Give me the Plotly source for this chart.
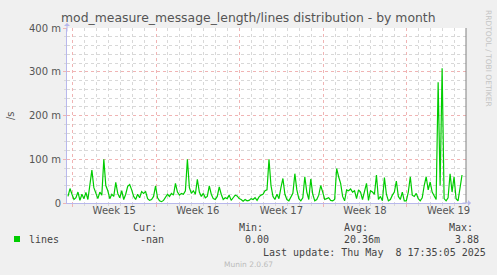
import plotly.graph_objects as go
import pandas as pd

# ---------------- data ----------------
title = "mod_measure_message_length/lines distribution - by month"
series_name = "lines"
# values in milli-units (m/s), one sample every 4 hours
lines_m = [
    15, 33, 20, 8, 12, 25, 6, 20, 10, 24,
    8, 45, 75, 35, 22, 10, 25, 18, 100, 40,
    28, 10, 20, 15, 47, 22, 12, 28, 8, 20,
    38, 42, 30, 15, 8, 20, 12, 26, 22, 26,
    10, 6, 8, 15, 39, 12, 5, 3, 6, 12,
    20, 15, 22, 18, 45, 25, 18, 22, 20, 28,
    100, 35, 22, 28, 20, 54, 25, 15, 22, 12,
    15, 39, 20, 10, 8, 15, 37, 20, 8, 12,
    10, 18, 6, 12, 18, 16, 10, 8, 4, 8,
    5, 6, 10, 8, 12, 6, 14, 18, 20, 28,
    30, 100, 40, 15, 8, 20, 10, 35, 56, 20,
    8, 5, 15, 22, 67, 30, 10, 5, 12, 60,
    25, 8, 55, 20, 5, 8, 18, 40, 25, 8,
    10, 12, 6, 5, 8, 79, 60, 45, 15, 5,
    30, 28, 32, 25, 28, 10, 30, 25, 8, 28,
    45, 6, 28, 25, 20, 64, 8, 15, 5, 58,
    20, 5, 8, 18, 25, 50, 15, 8, 25, 5,
    5, 25, 60, 18, 15, 22, 10, 5, 12, 40,
    60, 30, 48, 25, 15, 8, 276, 40, 308, 10,
    5, 12, 67, 25, 60, 10, 5, 30, 64,
]
first_sample = "2025-04-05 15:00"
sample_step = "4h"
x_range = ["2025-04-05 13:00", "2025-05-08 23:00"]

week_starts = ["2025-04-06", "2025-04-13", "2025-04-20", "2025-04-27", "2025-05-04"]
week_label_pos = ["2025-04-09 12:00", "2025-04-16 12:00", "2025-04-23 12:00",
                  "2025-04-30 12:00", "2025-05-07 12:00"]
week_labels = ["Week 15", "Week 16", "Week 17", "Week 18", "Week 19"]

y_range = [0, 400]
y_ticks = [0, 100, 200, 300, 400]
y_ticktext = ["0", "100 m", "200 m", "300 m", "400 m"]
y_title = "/s"

legend_headers = ["Cur:", "Min:", "Avg:", "Max:"]
legend_values = ["-nan", "0.00", "20.36m", "3.88"]
last_update = "Last update: Thu May\u00a0 8 17:35:05 2025"
footer = "Munin 2.0.67"
side_text = "RRDTOOL / TOBI OETIKER"

# ---------------- layout helpers ----------------
W, H = 497, 275
PL, PR, PT, PB = 67, 466, 28, 203   # plot area in pixels


def px(xp):
    return (xp - PL) / (PR - PL)


def py(yp):
    return (PB - yp) / (PB - PT)


times = pd.date_range(first_sample, periods=len(lines_m), freq=sample_step)

GREEN = "#00cc00"
MONO = "DejaVu Sans Mono"
SANS = "DejaVu Sans"
TXT = "#555555"
RED_GRID = "#f0b4b4"
GRAY_GRID = "#d8d8d8"
AXIS = "#b8b8ec"

fig = go.Figure()
fig.add_trace(go.Scatter(x=times, y=lines_m, mode="lines",
                         line=dict(color=GREEN, width=1.2),
                         name=series_name, showlegend=False, hoverinfo="skip"))
fig.add_trace(go.Scatter(x=[times[0]], y=[None], xaxis="x2", mode="lines",
                         showlegend=False, hoverinfo="skip"))

fig.update_layout(
    width=W, height=H,
    margin=dict(l=PL, r=W - PR, t=PT, b=H - PB, pad=0),
    paper_bgcolor="#f0f0f0", plot_bgcolor="white",
    showlegend=False,
    xaxis=dict(
        type="date", range=x_range, tickvals=week_starts, showticklabels=False,
        showgrid=True, gridcolor=RED_GRID, griddash="dot", gridwidth=1,
        minor=dict(dtick=86400000, tick0="2025-04-06", showgrid=True,
                   gridcolor=GRAY_GRID, griddash="dot", gridwidth=1,
                   ticks="outside", ticklen=2, tickcolor=GRAY_GRID),
        ticks="outside", ticklen=3, tickcolor=RED_GRID,
        showline=True, linecolor=AXIS, linewidth=1, zeroline=False,
        fixedrange=True,
    ),
    xaxis2=dict(
        type="date", range=x_range, overlaying="x", anchor="y", side="bottom",
        tickvals=week_label_pos, ticktext=week_labels, showgrid=False,
        ticks="", showline=False, zeroline=False,
        tickfont=dict(family=SANS, size=10, color=TXT), fixedrange=True,
    ),
    yaxis=dict(
        range=y_range, tickvals=y_ticks, ticktext=y_ticktext,
        showgrid=True, gridcolor=RED_GRID, griddash="dot", gridwidth=1,
        minor=dict(dtick=20, showgrid=True, gridcolor=GRAY_GRID,
                   griddash="dot", gridwidth=1, ticks="outside", ticklen=2,
                   tickcolor=GRAY_GRID),
        ticks="outside", ticklen=3, tickcolor=RED_GRID,
        showline=True, linecolor=AXIS, linewidth=1, zeroline=False,
        tickfont=dict(family=SANS, size=10, color=TXT), fixedrange=True,
    ),
)

ann = []


def text(xp, yp, s, size=10, family=MONO, color="#444444", anchor="left", angle=0):
    ann.append(dict(x=px(xp), y=py(yp), xref="paper", yref="paper", text=s,
                    showarrow=False, xanchor=anchor, yanchor="middle",
                    textangle=angle, font=dict(family=family, size=size, color=color)))


text(248, 18, title, size=12.4, family=SANS, color="#555555", anchor="center")
text(10, 116, y_title, size=10, family=SANS, color=TXT, anchor="center", angle=-90)
text(488, 58, side_text, size=7.5, family=SANS, color="#c4c4c4", anchor="center", angle=90)

head_x = [131, 237, 342, 447]
val_x = [138, 243, 342, 453]
for hx, h in zip(head_x, legend_headers):
    text(hx, 227, h)
text(27, 239, series_name)
for vx, v in zip(val_x, legend_values):
    text(vx, 239, v)
text(261, 252, last_update)
text(248, 264, footer, size=7.5, family=SANS, color="#bbbbbb", anchor="center")

# axis arrows
ann.append(dict(x=px(471), y=0, xref="paper", yref="paper", text="", showarrow=True,
                ax=-10, ay=0, arrowhead=1, arrowsize=1, arrowwidth=1, arrowcolor=AXIS))
ann.append(dict(x=0, y=py(23), xref="paper", yref="paper", text="", showarrow=True,
                ax=0, ay=10, arrowhead=1, arrowsize=1, arrowwidth=1, arrowcolor=AXIS))
fig.update_layout(annotations=ann)

shapes = [
    dict(type="rect", xref="paper", yref="paper", x0=px(14), x1=px(20),
         y0=py(236), y1=py(242), fillcolor=GREEN, line=dict(width=0)),
    dict(type="line", xref="paper", yref="paper", x0=1, x1=1, y0=0, y1=1,
         line=dict(color="#808080", width=1)),
]
fig.update_layout(shapes=shapes)

fig.write_html("out.html")
